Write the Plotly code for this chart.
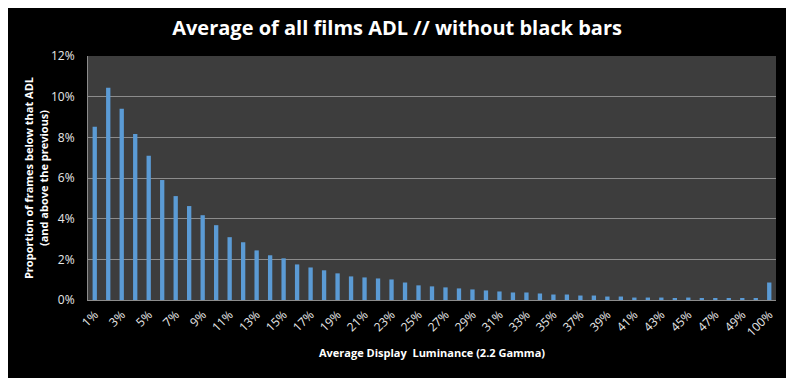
import plotly.graph_objects as go

categories = [f"{i}%" for i in range(1, 51)] + ["100%"]
values = [8.52, 10.44, 9.41, 8.17, 7.09, 5.90, 5.11, 4.62, 4.17, 3.68,
          3.09, 2.84, 2.44, 2.20, 2.05, 1.75, 1.60, 1.46, 1.31, 1.16,
          1.11, 1.06, 1.01, 0.86, 0.72, 0.67, 0.62, 0.57, 0.52, 0.47,
          0.42, 0.37, 0.37, 0.32, 0.27, 0.27, 0.22, 0.22, 0.17, 0.17,
          0.12, 0.12, 0.12, 0.07, 0.12, 0.07, 0.07, 0.07, 0.07, 0.07,
          0.86]
values = [v / 100 for v in values]
tick_labels = [f"{i}%" for i in range(1, 50, 2)] + ["100%"]
y_ticks = [0, 0.02, 0.04, 0.06, 0.08, 0.10, 0.12]

fig = go.Figure(go.Bar(x=categories, y=values, marker=dict(color="#5b9bd5", line_width=0)))

font_family = "Open Sans, DejaVu Sans, sans-serif"
fig.update_layout(
    width=794, height=378,
    paper_bgcolor="black", plot_bgcolor="#3d3d3d",
    margin=dict(l=80, r=26, t=48, b=86),
    bargap=0.68,
    showlegend=False,
    title=dict(text="<b>Average of all films ADL // without black bars</b>",
               x=0.49, xanchor="center", xref="container", y=0.947, yanchor="middle",
               font=dict(family=font_family, size=20, color="white")),
    font=dict(family=font_family, color="white"),
)
fig.update_xaxes(
    type="category", tickmode="array", tickvals=tick_labels, ticktext=tick_labels,
    tickangle=-45, tickfont=dict(size=12, color="#e8e8e8"), ticklabelstandoff=2,
    showline=True, linecolor="#8c8c8c", linewidth=1, showgrid=False, ticks="",
    automargin=False,
    title=dict(text="<b>Average Display  Luminance (2.2 Gamma)</b>",
               font=dict(size=11, color="white"), standoff=10),
)
fig.update_yaxes(
    range=[0, 0.12], tickvals=y_ticks, tickformat=".0%",
    tickfont=dict(size=12, color="#e8e8e8"), ticklabelstandoff=10,
    showgrid=True, gridcolor="#8c8c8c", gridwidth=1,
    showline=True, linecolor="#8c8c8c", linewidth=1, zeroline=False, ticks="",
    automargin=False,
    title=dict(text="<b>Proportion of frames below that ADL<br>(and above the previous)</b>",
               font=dict(size=11, color="white"), standoff=0),
)
fig.write_html("out.html")
